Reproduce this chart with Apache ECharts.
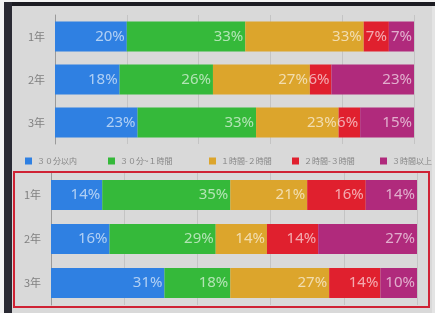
<!DOCTYPE html>
<html>
<head>
<meta charset="utf-8">
<script src="https://cdn.jsdelivr.net/npm/echarts@6/dist/echarts.min.js"></script>
<style>
  html, body { margin: 0; padding: 0; background: #fff; }
  #chart { width: 435px; height: 313px; }
</style>
</head>
<body>
<div id="chart"></div>
<script>
// カテゴリと凡例
const grades = ["1年", "2年", "3年"];
const seriesNames = ["３０分以内", "３０分~１時間", "１時間-２時間", "２時間-３時間", "３時間以上"];
const colors = ["#2f80e2", "#35b93a", "#dca52c", "#e0202e", "#b02a7c"];

// 上のグラフ（%）
const topData = [
  [20, 18, 23],
  [33, 26, 33],
  [33, 27, 23],
  [7, 6, 6],
  [7, 23, 15]
];
// 下のグラフ（%）
const bottomData = [
  [14, 16, 31],
  [35, 29, 18],
  [21, 14, 27],
  [16, 14, 14],
  [14, 27, 10]
];

const legendLeft = [20, 103, 204, 287, 375];

const chart = echarts.init(document.getElementById("chart"));

function makeSeries(data, idx) {
  return data.map((vals, i) => ({
    name: seriesNames[i],
    type: "bar",
    stack: "s" + idx,
    xAxisIndex: idx,
    yAxisIndex: idx,
    barWidth: 30,
    data: vals,
    itemStyle: { color: colors[i] },
    label: {
      show: true,
      position: "insideRight",
      distance: 2,
      formatter: "{c}%",
      color: "rgba(255,255,255,0.62)",
      fontSize: 15,
      fontFamily: "Noto Sans"
    }
  }));
}

function xAxis(idx) {
  return {
    type: "value",
    gridIndex: idx,
    min: 0,
    max: 100,
    interval: 20,
    axisLabel: { show: false },
    axisLine: { show: false },
    axisTick: { show: false },
    splitLine: { lineStyle: { color: "#c4c4c4", width: 1 } }
  };
}

function yAxis(idx) {
  return {
    type: "category",
    gridIndex: idx,
    data: grades,
    inverse: true,
    axisTick: { show: false },
    axisLine: { lineStyle: { color: "#9a9a9a", width: 1 } },
    axisLabel: {
      color: "#808080",
      fontSize: 11,
      margin: 10,
      fontFamily: "Noto Sans CJK JP"
    }
  };
}

const option = {
  backgroundColor: "#d9d9d9",
  animation: false,
  grid: [
    { left: 55, right: 21, top: 15, height: 129 },
    { left: 51, right: 18, top: 173, height: 132 }
  ],
  xAxis: [xAxis(0), xAxis(1)],
  yAxis: [yAxis(0), yAxis(1)],
  legend: seriesNames.map((n, i) => ({
    data: [n],
    left: legendLeft[i],
    top: 152,
    itemWidth: 7,
    itemHeight: 7,
    icon: "rect",
    textStyle: { color: "#858585", fontSize: 8, fontFamily: "Noto Sans CJK JP" }
  })),
  graphic: [
    { type: "rect", shape: { x: 0, y: 0, width: 435, height: 2 }, style: { fill: "#f4f4f4" }, z: 100 },
    { type: "rect", shape: { x: 0, y: 2, width: 435, height: 4 }, style: { fill: "#1c1c22" }, z: 100 },
    { type: "rect", shape: { x: 0, y: 0, width: 4, height: 313 }, style: { fill: "#f4f4f4" }, z: 100 },
    { type: "rect", shape: { x: 4, y: 2, width: 8, height: 311 }, style: { fill: "#2a2a33" }, z: 100 },
    { type: "rect", shape: { x: 432, y: 6, width: 3, height: 307 }, style: { fill: "#e4e4e4" }, z: 100 },
    {
      type: "rect",
      shape: { x: 14, y: 172, width: 415, height: 135 },
      style: { fill: "none", stroke: "#cf2234", lineWidth: 2 },
      z: 100
    }
  ],
  series: [...makeSeries(topData, 0), ...makeSeries(bottomData, 1)]
};

chart.setOption(option);
window.addEventListener("resize", () => chart.resize());
</script>
</body>
</html>
